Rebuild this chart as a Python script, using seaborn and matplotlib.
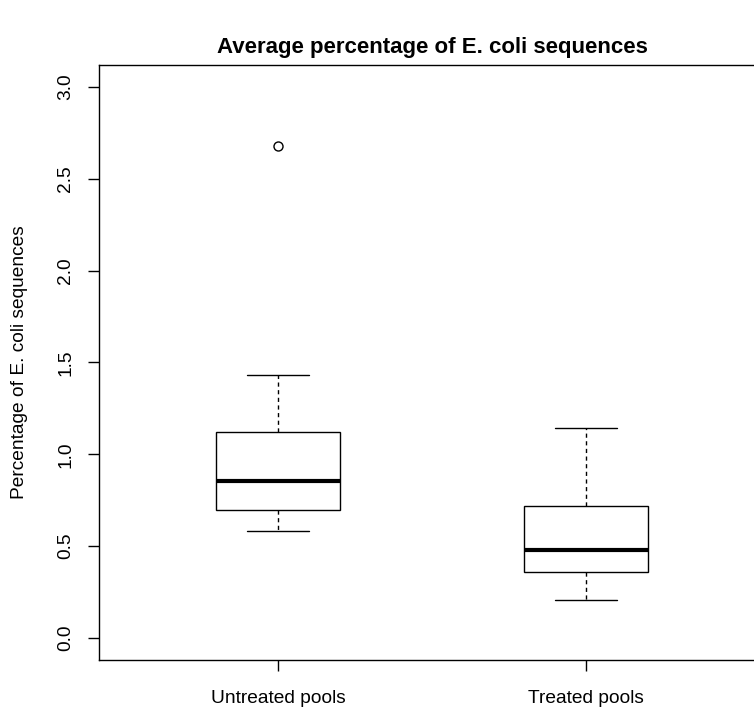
import numpy as np
import pandas as pd
import matplotlib
matplotlib.use("Agg")
import matplotlib.pyplot as plt
import seaborn as sns

# Data (quartiles, whiskers and outlier)
groups = ["Untreated pools", "Treated pools"]
untreated = [0.58, 0.64, 0.697, 0.78, 0.856, 0.95, 1.121, 1.43, 2.68]
treated = [0.209, 0.30, 0.36, 0.42, 0.477, 0.60, 0.717, 0.95, 1.142]
yticks = [0.0, 0.5, 1.0, 1.5, 2.0, 2.5, 3.0]
ytick_labels = ["0.0", "0.5", "1.0", "1.5", "2.0", "2.5", "3.0"]

df = pd.DataFrame({
    "group": [groups[0]] * len(untreated) + [groups[1]] * len(treated),
    "value": untreated + treated,
})

sns.set_theme(style="white")
plt.rcParams["font.family"] = ["Liberation Sans", "DejaVu Sans"]

W, H = 754, 708
fig = plt.figure(figsize=(W / 100, H / 100), dpi=100)
left_px, right_px, top_px, bot_px = 99.4, 764.6, 65, 660
ax = fig.add_axes([left_px / W, 1 - bot_px / H, (right_px - left_px) / W, (bot_px - top_px) / H])

sns.boxplot(
    data=df, x="group", y="value", order=groups, ax=ax,
    width=0.4, color="white", linecolor="black", linewidth=1.0, saturation=1,
    whis=1.5,
    whiskerprops=dict(linestyle=(0, (3, 2.5)), color="black", linewidth=1.0),
    capprops=dict(color="black", linewidth=1.0),
    medianprops=dict(color="black", linewidth=3.0),
    boxprops=dict(facecolor="white", edgecolor="black", linewidth=1.0),
    flierprops=dict(marker="o", markerfacecolor="none", markeredgecolor="black",
                    markersize=6.5, markeredgewidth=1.0),
)

ax.set_xlim(-0.58, 1.58)
ax.set_ylim(-0.12, 3.12)
ax.set_yticks(yticks)
ax.set_yticklabels(ytick_labels, rotation=90, va="center")
ax.set_xticks([0, 1])
ax.set_xticklabels(groups)

for s in ax.spines.values():
    s.set_visible(True)
    s.set_color("black")
    s.set_linewidth(1.0)

ax.tick_params(axis="both", which="both", direction="out", length=8, width=1.0,
               color="black", labelsize=13.8, labelcolor="black", left=True, bottom=True)
ax.tick_params(axis="y", pad=10)
ax.tick_params(axis="x", pad=13.5)

ax.set_xlabel("")
ax.set_ylabel("Percentage of E. coli sequences", fontsize=13.8, color="black")
ax.yaxis.set_label_coords((28 - left_px) / (right_px - left_px), 0.5)

fig.text((left_px + right_px) / 2 / W, 1 - 47 / H, "Average percentage of E. coli sequences",
         ha="center", va="center", fontsize=16, fontweight="bold", color="black")

fig.savefig("out.png", dpi=100, facecolor="white")
